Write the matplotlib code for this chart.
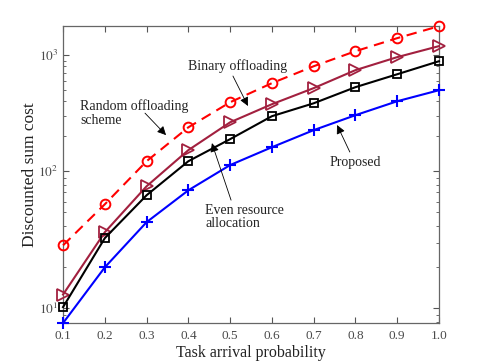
import numpy as np
import matplotlib
matplotlib.use("Agg")
import matplotlib.pyplot as plt
from matplotlib.ticker import FixedLocator, FuncFormatter, NullFormatter

plt.rcParams['font.family'] = ['Liberation Serif', 'DejaVu Serif']
plt.rcParams['mathtext.fontset'] = 'stix'

# data
prob = [0.1, 0.2, 0.3, 0.4, 0.5, 0.6, 0.7, 0.8, 0.9, 1.0]
random_cost = [28.8, 57.4, 122, 239, 393, 574, 803, 1082, 1402, 1778]
binary_cost = [12.6, 35.9, 77.7, 152, 264, 378, 520, 743, 962, 1197]
even_cost = [10.2, 32.5, 66.8, 122, 189, 298, 385, 530, 685, 887]
proposed_cost = [7.8, 19.9, 42.5, 72.6, 113, 161, 226, 304, 401, 499]
x_ticks = [0.1, 0.2, 0.3, 0.4, 0.5, 0.6, 0.7, 0.8, 0.9, 1.0]
x_ticklabels = ['0.1', '0.2', '0.3', '0.4', '0.5', '0.6', '0.7', '0.8', '0.9', '1.0']


# the y axis of the original is log, but the lowest decade is drawn taller
def fwd(v):
    lv = np.log10(np.clip(np.asarray(v, dtype=float), 1e-6, None))
    return np.where(lv >= 2, (lv - 2) * 116.0, (lv - 2) * 137.0)


def inv(t):
    t = np.asarray(t, dtype=float)
    return np.where(t >= 0, 10 ** (2 + t / 116.0), 10 ** (2 + t / 137.0))


fig = plt.figure(figsize=(4.85, 3.63), dpi=100)
ax = fig.add_axes([0.130, 0.110, 0.775, 0.818])
ax.set_yscale('function', functions=(fwd, inv))

ax.plot(prob, random_cost, '--o', color='#ff0000', lw=1.5, ms=7, mfc='none', mew=1.4,
        dashes=(5, 3.2), clip_on=False, zorder=4)
ax.plot(prob, binary_cost, '->', color='#a2203f', lw=1.5, ms=9, mfc='none', mew=1.3,
        clip_on=False, zorder=3)
ax.plot(prob, even_cost, '-s', color='black', lw=1.5, ms=5.5, mfc='none', mew=1.3,
        clip_on=False, zorder=3)
ax.plot(prob, proposed_cost, '-+', color='#0000ff', lw=1.5, ms=9, mew=1.5,
        clip_on=False, zorder=3)

ax.set_xlim(0.1, 1.0)
ax.set_ylim(7.8, 1780)
ax.set_xticks(x_ticks)
ax.set_xticklabels(x_ticklabels)
ax.yaxis.set_major_locator(FixedLocator([10, 100, 1000]))
ax.yaxis.set_major_formatter(FuncFormatter(lambda v, p: r'$10^{%d}$' % round(np.log10(v))))
minor = [k * 10 ** e for e in range(0, 4) for k in range(2, 10)]
ax.yaxis.set_minor_locator(FixedLocator(minor))
ax.yaxis.set_minor_formatter(NullFormatter())

ax.tick_params(which='both', direction='in', top=True, right=True,
               labelsize=9.5, colors='#555555', labelcolor='#4a4a4a')
ax.tick_params(axis='x', pad=5)
ax.tick_params(which='major', length=4)
ax.tick_params(which='minor', length=2)
for s in ax.spines.values():
    s.set_color('#666666')
    s.set_linewidth(0.9)

ax.set_xlabel('Task arrival probability', fontsize=11.5, labelpad=2, color='#222222')
ax.set_ylabel('Discounted sum cost', fontsize=12.5, labelpad=0, color='#222222')

arrow = dict(arrowstyle='-|>', color='black', lw=0.6, mutation_scale=13,
             shrinkA=0, shrinkB=0)

ax.text(0.465, 0.865, 'Binary offloading', transform=ax.transAxes,
        ha='center', va='center', fontsize=10, color='#222222')
ax.annotate('', xy=(0.492, 0.731), xytext=(0.452, 0.832), arrowprops=arrow,
            xycoords='axes fraction', textcoords='axes fraction')

ax.text(0.045, 0.707, 'Random offloading\nscheme', transform=ax.transAxes,
        ha='left', va='center', fontsize=10, color='#222222', linespacing=1.05)
ax.annotate('', xy=(0.274, 0.633), xytext=(0.218, 0.707), arrowprops=arrow,
            xycoords='axes fraction', textcoords='axes fraction')

ax.text(0.378, 0.357, 'Even resource\nallocation', transform=ax.transAxes,
        ha='left', va='center', fontsize=10, color='#222222', linespacing=1.05)
ax.annotate('', xy=(0.396, 0.606), xytext=(0.447, 0.414), arrowprops=arrow,
            xycoords='axes fraction', textcoords='axes fraction')

ax.text(0.777, 0.542, 'Proposed', transform=ax.transAxes,
        ha='center', va='center', fontsize=10, color='#222222')
ax.annotate('', xy=(0.729, 0.667), xytext=(0.763, 0.576), arrowprops=arrow,
            xycoords='axes fraction', textcoords='axes fraction')

fig.savefig('out.png', dpi=100)
